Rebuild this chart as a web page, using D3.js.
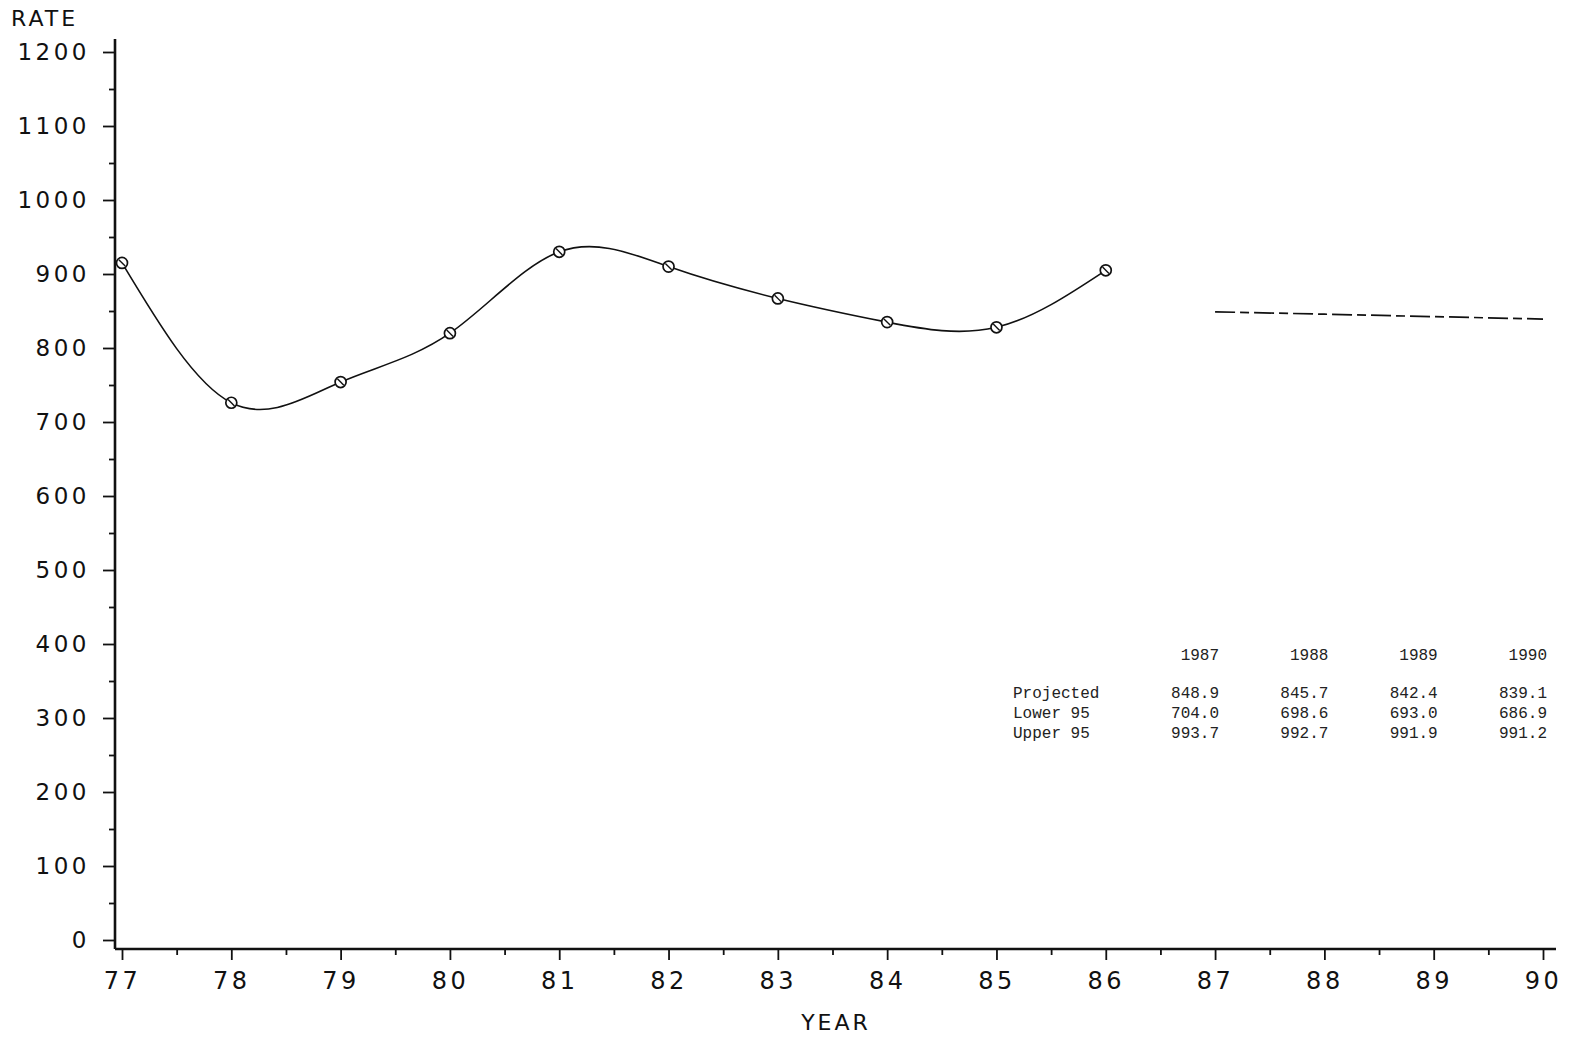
<!DOCTYPE html>
<html>
<head>
<meta charset="utf-8">
<script src="https://cdn.jsdelivr.net/npm/d3@7"></script>
<style>
  body { margin: 0; background: #fff; }
  svg { display: block; }
  .tick text { font-family: "DejaVu Sans", sans-serif; }
</style>
</head>
<body>
<svg id="chart" width="1571" height="1037"></svg>
<script>
// --- data
var years = [77, 78, 79, 80, 81, 82, 83, 84, 85, 86];
var rates = [915, 726, 754, 820, 930, 910, 867, 835, 828, 905];

var projYears = [87, 88, 89, 90];
var projected = [848.9, 845.7, 842.4, 839.1];
var lower95 = [704.0, 698.6, 693.0, 686.9];
var upper95 = [993.7, 992.7, 991.9, 991.2];
var tableYears = ["1987", "1988", "1989", "1990"];
var tableRows = ["Projected", "Lower 95", "Upper 95"];

var xTickLabels = ["77", "78", "79", "80", "81", "82", "83", "84", "85", "86", "87", "88", "89", "90"];
var yTicks = [0, 100, 200, 300, 400, 500, 600, 700, 800, 900, 1000, 1100, 1200];

// --- layout
var svg = d3.select("#chart");
var axisX = 115, axisY = 949;

var x = d3.scaleLinear().domain([77, 90]).range([122, 1543]);
var y = d3.scaleLinear().domain([0, 1200]).range([940, 52]);

// ------------------------------------------
// ---  AXES:  BEGIN

var yMinor = d3.range(50, 1200, 100);
var xMinor = d3.range(77.5, 90, 1);

var yAxis = svg.append("g")
  .attr("transform", "translate(" + axisX + ",0)")
  .call(d3.axisLeft(y).tickValues(yTicks).tickSize(12).tickPadding(13).tickFormat(function(d) { return d; }));

var yAxisMinor = svg.append("g")
  .attr("transform", "translate(" + axisX + ",0)")
  .call(d3.axisLeft(y).tickValues(yMinor).tickSize(6).tickFormat(""));

var xAxis = svg.append("g")
  .attr("transform", "translate(0," + axisY + ")")
  .call(d3.axisBottom(x).tickValues(d3.range(77, 91)).tickSize(11).tickPadding(12)
    .tickFormat(function(d, i) { return xTickLabels[i]; }));

var xAxisMinor = svg.append("g")
  .attr("transform", "translate(0," + axisY + ")")
  .call(d3.axisBottom(x).tickValues(xMinor).tickSize(6).tickFormat(""));

svg.selectAll(".domain").remove();
svg.selectAll(".tick line").attr("stroke", "#111").attr("stroke-width", 1.8);

yAxis.selectAll(".tick text")
  .attr("font-size", 23)
  .attr("letter-spacing", 3.5)
  .attr("fill", "#111");

xAxis.selectAll(".tick text")
  .attr("font-size", 24)
  .attr("letter-spacing", 3.5)
  .attr("dx", 0)
  .attr("fill", "#111");

// axis lines
svg.append("line")
  .attr("x1", axisX).attr("x2", axisX)
  .attr("y1", 39).attr("y2", axisY)
  .attr("stroke", "#111").attr("stroke-width", 2.6);

svg.append("line")
  .attr("x1", axisX).attr("x2", 1556)
  .attr("y1", axisY).attr("y2", axisY)
  .attr("stroke", "#111").attr("stroke-width", 2.6);

// axis titles
svg.append("text")
  .attr("x", 11).attr("y", 26)
  .attr("font-family", "DejaVu Sans, sans-serif")
  .attr("font-size", 22).attr("letter-spacing", 3)
  .attr("fill", "#111")
  .text("RATE");

svg.append("text")
  .attr("x", 836).attr("y", 1030)
  .attr("text-anchor", "middle")
  .attr("font-family", "DejaVu Sans, sans-serif")
  .attr("font-size", 22).attr("letter-spacing", 3)
  .attr("fill", "#111")
  .text("YEAR");

// ---  AXES:  END
// ------------------------------------------

// ------------------------------------------
// ---  OBSERVED CURVE:  BEGIN

var obs = years.map(function(d, i) { return { year: d, rate: rates[i] }; });

var line = d3.line()
  .x(function(d) { return x(d.year); })
  .y(function(d) { return y(d.rate); })
  .curve(d3.curveNatural);

svg.append("path")
  .datum(obs)
  .attr("d", line)
  .attr("fill", "none")
  .attr("stroke", "#111")
  .attr("stroke-width", 1.6);

var marks = svg.selectAll(".mark")
  .data(obs)
  .enter()
  .append("g")
  .attr("class", "mark")
  .attr("transform", function(d) { return "translate(" + x(d.year) + "," + y(d.rate) + ")"; });

marks.append("circle")
  .attr("r", 5.5)
  .attr("fill", "#fff")
  .attr("stroke", "#111")
  .attr("stroke-width", 1.7);

marks.append("line")
  .attr("x1", -3.2).attr("y1", -3.2)
  .attr("x2", 3.2).attr("y2", 3.2)
  .attr("stroke", "#111")
  .attr("stroke-width", 1.4);

// ---  OBSERVED CURVE:  END
// ------------------------------------------

// ------------------------------------------
// ---  PROJECTION:  BEGIN

var proj = projYears.map(function(d, i) { return { year: d, rate: projected[i] }; });

svg.append("path")
  .datum(proj)
  .attr("d", d3.line()
    .x(function(d) { return x(d.year); })
    .y(function(d) { return y(d.rate); }))
  .attr("fill", "none")
  .attr("stroke", "#111")
  .attr("stroke-width", 1.7)
  .attr("stroke-dasharray", "20,5,9,5");

// table
var colRight = projYears.map(function(d) { return x(d) + 4; });
var tableFont = "Liberation Mono, DejaVu Sans Mono, monospace";

svg.selectAll(".tyear")
  .data(tableYears)
  .enter()
  .append("text")
  .attr("class", "tyear")
  .attr("x", function(d, i) { return colRight[i]; })
  .attr("y", 660)
  .attr("text-anchor", "end")
  .attr("font-family", tableFont)
  .attr("font-size", 16)
  .attr("fill", "#222")
  .text(function(d) { return d; });

var tableValues = [projected, lower95, upper95];

tableRows.forEach(function(name, r) {
  var rowY = 698 + r * 20;
  svg.append("text")
    .attr("x", 1013)
    .attr("y", rowY)
    .attr("font-family", tableFont)
    .attr("font-size", 16)
    .attr("fill", "#222")
    .text(name);

  svg.selectAll(".tval" + r)
    .data(tableValues[r])
    .enter()
    .append("text")
    .attr("class", "tval" + r)
    .attr("x", function(d, i) { return colRight[i]; })
    .attr("y", rowY)
    .attr("text-anchor", "end")
    .attr("font-family", tableFont)
    .attr("font-size", 16)
    .attr("fill", "#222")
    .text(function(d) { return d.toFixed(1); });
});

// ---  PROJECTION:  END
// ------------------------------------------
</script>
</body>
</html>
